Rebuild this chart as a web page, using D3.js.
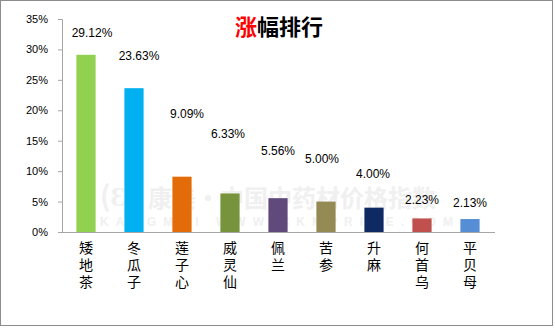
<!DOCTYPE html>
<html><head><meta charset="utf-8">
<script src="https://cdn.jsdelivr.net/npm/d3@7"></script>
<style>body{margin:0;background:#fff}svg{display:block}</style>
</head><body>
<script>
const categories = ["矮地茶","冬瓜子","莲子心","威灵仙","佩兰","苦参","升麻","何首乌","平贝母"];
const values = [29.12, 23.63, 9.09, 6.33, 5.56, 5.00, 4.00, 2.23, 2.13];
const colors = ["#92d050","#00b0f0","#e36c09","#77933c","#604a7b","#948a54","#0f2a62","#c0504d","#558ed5"];
const yTicks = [0,5,10,15,20,25,30,35];
const titleParts = [["涨","#ff0000"],["幅排行","#000"]];

// label placement tweaks (layout, px)
const labelLift = [22,32,63,60,47,43,34,19,16];
const labelDx = [6,5,5,-2,0,-4,-1,0,0];

const W=555,H=328;
const svg=d3.select("body").append("svg").attr("width",W).attr("height",H);
svg.append("rect").attr("x",0.5).attr("y",0.5).attr("width",W-3).attr("height",H-3)
  .attr("fill","#fff").attr("stroke","#8c8c8c").attr("stroke-width",1);

const x=d3.scaleBand().domain(categories).range([62,494]).paddingInner(0.6).paddingOuter(0.3);
const y=d3.scaleLinear().domain([0,35]).range([232,19]);

// watermark
const wm=svg.append("g").attr("fill","#f0f0f0").attr("font-family","Noto Sans CJK SC").attr("font-weight","bold");
wm.append("text").attr("x",100).attr("y",206).attr("font-size",28).text("(Ɛ");
wm.append("text").attr("x",148).attr("y",207).attr("font-size",24).text("康美·中国中药材价格指数");
wm.append("text").attr("x",100).attr("y",226).attr("font-size",12).attr("font-family","Liberation Sans")
  .attr("letter-spacing","7").text("KANGMEI WWW.CKMPRICE.COM");

// y axis
const ya=svg.append("g").attr("transform","translate(62,0)")
  .call(d3.axisLeft(y).tickValues(yTicks).tickFormat(d=>d+"%").tickSize(4).tickPadding(10));
ya.select(".domain").attr("stroke","#a6a6a6").attr("d","M-4,19.5H0.5V232.5");
ya.selectAll(".tick line").attr("stroke","#a6a6a6");
ya.selectAll(".tick text").attr("font-family","Liberation Sans").attr("font-size",11).attr("fill","#000");

// bars
svg.append("g").selectAll("rect").data(values).join("rect")
  .attr("x",(d,i)=>x(categories[i])).attr("width",x.bandwidth())
  .attr("y",d=>y(d)).attr("height",d=>y(0)-y(d))
  .attr("fill",(d,i)=>colors[i]);

// x axis line
svg.append("line").attr("x1",58).attr("x2",495).attr("y1",232.5).attr("y2",232.5)
  .attr("stroke","#a6a6a6").attr("stroke-width",1.2);

// value labels
svg.append("g").selectAll("text").data(values).join("text")
  .attr("x",(d,i)=>x(categories[i])+x.bandwidth()/2+labelDx[i])
  .attr("y",(d,i)=>y(d)-labelLift[i])
  .attr("dy","0.35em").attr("text-anchor","middle")
  .attr("font-family","Liberation Sans").attr("font-size",12).attr("fill","#000")
  .text(d=>d.toFixed(2)+"%");

// category labels (vertical)
svg.append("g").selectAll("text").data(categories).join("text")
  .attr("x",c=>x(c)+x.bandwidth()/2).attr("y",241)
  .attr("writing-mode","tb").style("writing-mode","vertical-rl")
  .attr("letter-spacing",3)
  .attr("font-family","Noto Sans CJK SC").attr("font-size",14).attr("fill","#000")
  .text(c=>c);

// title
const t=svg.append("text").attr("x",279).attr("y",27).attr("dy","0.35em").attr("text-anchor","middle")
  .attr("font-family","Noto Sans CJK SC").attr("font-size",22).attr("font-weight","bold");
titleParts.forEach(p=>t.append("tspan").attr("fill",p[1]).text(p[0]));
</script>
</body></html>
